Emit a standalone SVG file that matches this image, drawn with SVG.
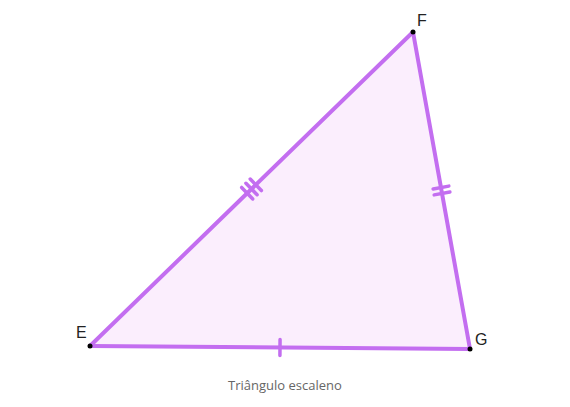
<svg xmlns="http://www.w3.org/2000/svg" width="570" height="407" viewBox="0 0 570 407">
<style>
.edge{stroke:#c36ef0;stroke-width:4;fill:none;stroke-linecap:round}
.tick{stroke:#c36ef0;stroke-width:3.5;stroke-linecap:round}
.lbl{font-family:"Liberation Sans",Arial,sans-serif;font-size:16px;fill:#222}
.cap{font-family:"Open Sans","Liberation Sans",sans-serif;font-size:13px;fill:#666}
</style>
<rect width="570" height="407" fill="#ffffff"/>
<g id="triangle">
<polygon points="90,346 413,32 470,349" fill="#fbeefd" stroke="none"/>
</g>
<g id="connectors">
<line class="edge" x1="90" y1="346" x2="413" y2="32"/>
<line class="edge" x1="413" y1="32" x2="470" y2="349"/>
<line class="edge" x1="470" y1="349" x2="90" y2="346"/>
<g transform="translate(251.5,189) rotate(-44.2)">
<line class="tick" x1="-6" y1="-8" x2="-6" y2="8"/>
<line class="tick" x1="0" y1="-8" x2="0" y2="8"/>
<line class="tick" x1="6" y1="-8" x2="6" y2="8"/>
</g>
<g transform="translate(441.5,190.5) rotate(79.8)">
<line class="tick" x1="-3" y1="-8" x2="-3" y2="8"/>
<line class="tick" x1="3" y1="-8" x2="3" y2="8"/>
</g>
<g transform="translate(280,347.5) rotate(0.45)">
<line class="tick" x1="0" y1="-8" x2="0" y2="8"/>
</g>
</g>
<g id="E"><circle cx="90" cy="346" r="2.5" fill="#000"/><text class="lbl" x="76" y="338">E</text></g>
<g id="F"><circle cx="413" cy="32" r="2.5" fill="#000"/><text class="lbl" x="417" y="26">F</text></g>
<g id="G"><circle cx="470" cy="349" r="2.5" fill="#000"/><text class="lbl" x="475" y="345">G</text></g>
<text class="cap" x="285" y="390" text-anchor="middle">Triângulo escaleno</text>
</svg>
